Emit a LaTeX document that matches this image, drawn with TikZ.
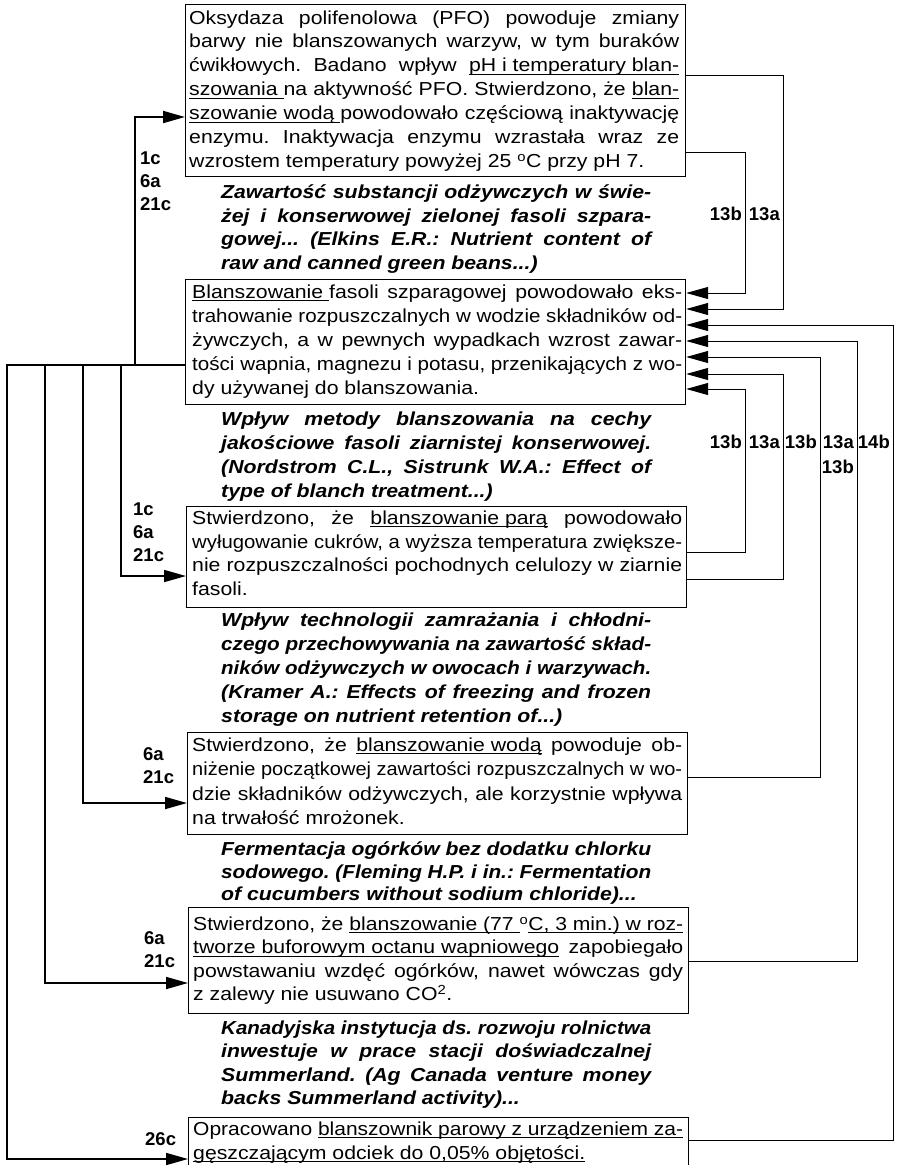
\documentclass[tikz,border=0pt]{standalone}
\usepackage{fontspec}
\setmainfont{Liberation Sans}[FakeStretch=1.13]
\newfontfamily\labelfamily{Liberation Sans}
\usepackage{graphicx}
\usetikzlibrary{arrows.meta}
\newsavebox\ulbox
\newsavebox\jlbox
\newcommand\ul[1]{\sbox\ulbox{#1}\rlap{\rule[-2.8pt]{\wd\ulbox}{0.9pt}}\usebox\ulbox}
\newcommand\jl[1]{\sbox\jlbox{#1}\ifdim\wd\jlbox>\linewidth\resizebox{\linewidth}{\height}{\usebox\jlbox}\else\makebox[\linewidth][s]{#1}\fi}
\newcommand\tb[3]{\parbox[t]{#1}{\frenchspacing\fontsize{18.8}{#2}\selectfont #3}}
\newcommand\ttb[3]{\parbox[t]{#1}{\frenchspacing\fontsize{18.8}{#2}\selectfont\bfseries\itshape #3}}
\tikzset{
  box/.style={draw, line width=1.2pt, rectangle, inner sep=0pt, anchor=north west, minimum width=500pt},
  txt/.style={inner sep=0pt, anchor=base west},
  lab/.style={inner sep=0pt, font=\labelfamily\fontsize{18.5}{23}\selectfont\bfseries},
  lconn/.style={line width=1.8pt, -{Triangle[length=22pt,width=12pt]}},
  rconn/.style={line width=1pt, -{Triangle[length=22pt,width=12pt]}},
}
\begin{document}
\begin{tikzpicture}[x=1pt,y=-1pt]
\path[use as bounding box] (0,0) rectangle (899,1165);
% boxes
\node[box, minimum height=172pt] (b1) at (185,4) {};
\node[box, minimum height=125pt] (b2) at (185,279) {};
\node[box, minimum height=101pt] (b3) at (186,506) {};
\node[box, minimum height=102pt] (b4) at (187,732) {};
\node[box, minimum height=106pt] (b5) at (188,907) {};
\node[box, minimum height=60pt] (b6) at (188,1117) {};
% box texts
\node[txt] (t1) at (189,24) {\tb{490pt}{23.95pt}{%
\jl{Oksydaza polifenolowa (PFO) powoduje zmiany}\\
\jl{barwy nie blanszowanych warzyw, w tym buraków}\\
\jl{ćwikłowych. Badano wpływ \ul{pH i temperatury blan-}}\\
\jl{\ul{szowania }na aktywność PFO. Stwierdzono, że \ul{blan-}}\\
\jl{\ul{szowanie wodą }powodowało częściową inaktywację}\\
\jl{enzymu. Inaktywacja enzymu wzrastała wraz ze}\\
wzrostem temperatury powyżej 25 \textsuperscript{o}C przy pH 7.}};
\node[txt] (t2) at (192,298.5) {\tb{490pt}{24pt}{%
\jl{\ul{Blanszowanie }fasoli szparagowej powodowało eks-}\\
\jl{trahowanie rozpuszczalnych w wodzie składników od-}\\
\jl{żywczych, a w pewnych wypadkach wzrost zawar-}\\
\jl{tości wapnia, magnezu i potasu, przenikających z wo-}\\
dy używanej do blanszowania.}};
\node[txt] (t3) at (192,524.5) {\tb{490pt}{23.7pt}{%
\jl{Stwierdzono, że \ul{blanszowanie parą} powodowało}\\
\jl{wyługowanie cukrów, a wyższa temperatura zwiększe-}\\
\jl{nie rozpuszczalności pochodnych celulozy w ziarnie}\\
fasoli.}};
\node[txt] (t4) at (192,751.5) {\tb{490pt}{24.3pt}{%
\jl{Stwierdzono, że \ul{blanszowanie wodą} powoduje ob-}\\
\jl{niżenie początkowej zawartości rozpuszczalnych w wo-}\\
\jl{dzie składników odżywczych, ale korzystnie wpływa}\\
na trwałość mrożonek.}};
\node[txt] (t5) at (193,930.5) {\tb{490pt}{23.3pt}{%
\jl{Stwierdzono, że \ul{blanszowanie (77 }\textsuperscript{o}\ul{C, 3 min.) w roz-}}\\
\jl{\ul{tworze buforowym octanu wapniowego} zapobiegało}\\
\jl{powstawaniu wzdęć ogórków, nawet wówczas gdy}\\
z zalewy nie usuwano CO\textsuperscript{2}.}};
\node[txt] (t6) at (193,1135.5) {\tb{490pt}{24pt}{%
\jl{Opracowano \ul{blanszownik parowy z urządzeniem za-}}\\
\ul{gęszczającym odciek do 0,05\% objętości.}}};
% titles
\node[txt] (h1) at (221,198.5) {\ttb{430pt}{23.7pt}{%
\jl{Zawartość substancji odżywczych w świe-}\\
\jl{żej i konserwowej zielonej fasoli szpara-}\\
\jl{gowej... (Elkins E.R.: Nutrient content of}\\
raw and canned green beans...)}};
\node[txt] (h2) at (221,425.5) {\ttb{430pt}{24pt}{%
\jl{Wpływ metody blanszowania na cechy}\\
\jl{jakościowe fasoli ziarnistej konserwowej.}\\
\jl{(Nordstrom C.L., Sistrunk W.A.: Effect of}\\
type of blanch treatment...)}};
\node[txt] (h3) at (221,626.5) {\ttb{430pt}{24pt}{%
\jl{Wpływ technologii zamrażania i chłodni-}\\
\jl{czego przechowywania na zawartość skład-}\\
\jl{ników odżywczych w owocach i warzywach.}\\
\jl{(Kramer A.: Effects of freezing and frozen}\\
storage on nutrient retention of...)}};
\node[txt] (h4) at (221,855.5) {\ttb{430pt}{22.6pt}{%
\jl{Fermentacja ogórków bez dodatku chlorku}\\
\jl{sodowego. (Fleming H.P. i in.: Fermentation}\\
of cucumbers without sodium chloride)...}};
\node[txt] (h5) at (221,1034.5) {\ttb{430pt}{23.3pt}{%
\jl{Kanadyjska instytucja ds. rozwoju rolnictwa}\\
\jl{inwestuje w prace stacji doświadczalnej}\\
\jl{Summerland. (Ag Canada venture money}\\
backs Summerland activity)...}};
% left labels
\node[lab, anchor=base west] (la1) at (140,164) {\parbox[t]{40pt}{1c\\6a\\21c}};
\node[lab, anchor=base west] (la2) at (133,515) {\parbox[t]{40pt}{1c\\6a\\21c}};
\node[lab, anchor=base west] (la3) at (143,760) {\parbox[t]{40pt}{6a\\21c}};
\node[lab, anchor=base west] (la4) at (144,944) {\parbox[t]{40pt}{6a\\21c}};
\node[lab, anchor=base west] (la5) at (145,1145) {26c};
% right labels
\node[lab, anchor=base east] (ra1) at (742,220.5) {13b};
\node[lab, anchor=base east] (ra2) at (780,220.5) {13a};
\node[lab, anchor=base east] (rb1) at (742,448) {13b};
\node[lab, anchor=base east] (rb2) at (780,448) {13a};
\node[lab, anchor=base east] (rb3) at (817,448) {13b};
\node[lab, anchor=base east] (rb4) at (854,448) {13a};
\node[lab, anchor=base east] (rb5) at (854,473) {13b};
\node[lab, anchor=base east] (rb6) at (890,448) {14b};
% left connectors (from b2)
\draw[lconn] (b2.west |- 0,365) -- (135,365) |- (b1.west |- 0,117);
\draw[lconn] (b2.west |- 0,365) -- (121,365) |- (b3.west |- 0,576);
\draw[lconn] (b2.west |- 0,365) -- (83,365) |- (b4.west |- 0,803);
\draw[lconn] (b2.west |- 0,365) -- (45,365) |- (b5.west |- 0,983);
\draw[lconn] (b2.west |- 0,365) -- (7,365) |- (b6.west |- 0,1159);
% right connectors (into b2)
\draw[rconn] (b1.east |- 0,152) -- (745,152) |- (b2.east |- 0,293);
\draw[rconn] (b1.east |- 0,75) -- (783,75) |- (b2.east |- 0,309);
\draw[rconn] (b6.east |- 0,1140) -- (893,1140) |- (b2.east |- 0,325);
\draw[rconn] (b5.east |- 0,961) -- (857,961) |- (b2.east |- 0,341);
\draw[rconn] (b4.east |- 0,777) -- (820,777) |- (b2.east |- 0,357);
\draw[rconn] (b3.east |- 0,579) -- (783,579) |- (b2.east |- 0,374);
\draw[rconn] (b3.east |- 0,552) -- (745,552) |- (b2.east |- 0,389);
\end{tikzpicture}
\end{document}
